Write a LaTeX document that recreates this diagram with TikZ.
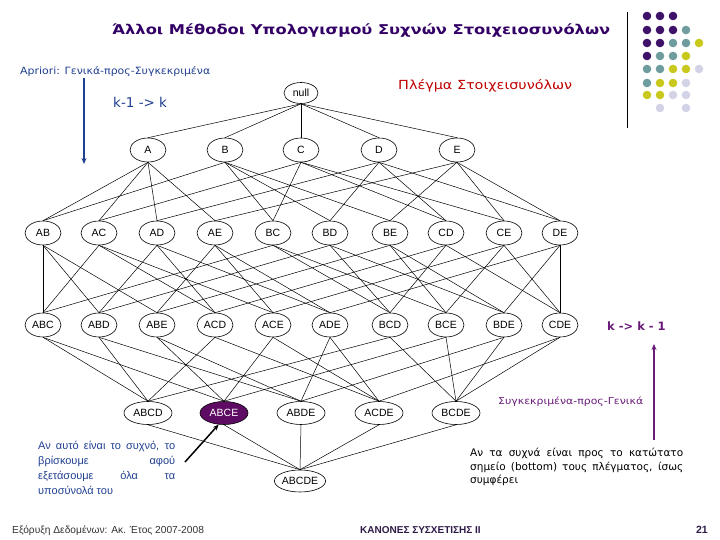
\documentclass[tikz,border=0pt]{standalone}
\usepackage{fontspec}
\setmainfont{Liberation Sans}
\newfontfamily\dvs{DejaVu Sans}
\usetikzlibrary{shapes.geometric,arrows.meta}
\definecolor{ttl}{HTML}{330066}
\definecolor{dpur}{HTML}{3D1268}
\definecolor{teal}{HTML}{6F9C9E}
\definecolor{yel}{HTML}{C9C81C}
\definecolor{lav}{HTML}{D3D3E8}
\definecolor{blu}{HTML}{1F3F8F}
\definecolor{pur}{HTML}{6A1B7A}
\definecolor{redt}{HTML}{C00000}
\definecolor{fillp}{HTML}{5E0B63}
\definecolor{foot}{HTML}{333333}
\definecolor{footp}{HTML}{2E1A47}
\begin{document}
\begin{tikzpicture}[x=1pt,y=-1pt,
  every node/.style={inner sep=0pt},
  set/.style={ellipse, draw, line width=0.6pt, minimum width=36pt, minimum height=24pt, font=\fontsize{10.5}{12}\selectfont},
  setfour/.style={set, minimum width=48pt, minimum height=23pt},
  edge/.style={line width=0.5pt},
  dot/.style={circle, fill=#1, minimum size=8.6pt}]
\useasboundingbox (0,0) rectangle (720,540);

% title
\node[text=ttl, anchor=base west] (title) at (112,35) {\resizebox{498pt}{\height}{\dvs\bfseries\fontsize{13.5}{16}\selectfont Άλλοι Μέθοδοι Υπολογισμού Συχνών Στοιχειοσυνόλων}};

% decoration
\coordinate (vl1) at (627,12);
\coordinate (vl2) at (627,128);
\draw[line width=0.8pt] (vl1) -- (vl2);
\foreach \r/\y/\cols in {1/16/{dpur,dpur,dpur},2/30/{dpur,dpur,dpur,teal},3/43/{dpur,dpur,teal,teal,yel},4/56/{dpur,teal,teal,yel},5/69/{teal,teal,yel,yel,lav},6/83/{teal,yel,yel,lav},7/95/{yel,yel,lav,lav}}{
  \foreach \c [count=\i from 0] in \cols {
    \node[dot=\c] (d\r\i) at (647+13*\i,\y) {};
  }
}
\node[dot=lav] (d81) at (660,108) {};
\node[dot=lav] (d83) at (686,108) {};

% lattice nodes
\node[set, minimum width=34pt, minimum height=21pt] (null) at (301,93) {null};
\foreach \n/\x in {A/148,B/225,C/301,D/379,E/457}
  \node[set] (\n) at (\x,150) {\n};
\foreach \n/\x in {AB/43,AC/99,AD/157,AE/215,BC/273,BD/330,BE/390,CD/446,CE/504,DE/560}
  \node[set] (\n) at (\x,233) {\n};
\foreach \n/\x in {ABC/43,ABD/99,ABE/157,ACD/215,ACE/273,ADE/330,BCD/390,BCE/446,BDE/504,CDE/560}
  \node[set] (\n) at (\x,325) {\n};
\foreach \n/\x in {ABCD/148,ABDE/301,ACDE/379,BCDE/456}
  \node[setfour] (\n) at (\x,413) {\n};
\node[setfour, fill=fillp, text=white] (ABCE) at (224,413) {ABCE};
\node[setfour, minimum width=50pt, minimum height=22pt] (ABCDE) at (300,481) {ABCDE};

% edges
\foreach \c in {A,B,C,D,E}
  \draw[edge] (null.south) -- (\c.north);
\foreach \c/\p in {AB/A,AB/B,AC/A,AC/C,AD/A,AD/D,AE/A,AE/E,BC/B,BC/C,BD/B,BD/D,BE/B,BE/E,CD/C,CD/D,CE/C,CE/E,DE/D,DE/E,
  ABC/AB,ABC/AC,ABC/BC,ABD/AB,ABD/AD,ABD/BD,ABE/AB,ABE/AE,ABE/BE,ACD/AC,ACD/AD,ACD/CD,ACE/AC,ACE/AE,ACE/CE,
  ADE/AD,ADE/AE,ADE/DE,BCD/BC,BCD/BD,BCD/CD,BCE/BC,BCE/BE,BCE/CE,BDE/BD,BDE/BE,BDE/DE,CDE/CD,CDE/CE,CDE/DE,
  ABCD/ABC,ABCD/ABD,ABCD/ACD,ABCD/BCD,ABCE/ABC,ABCE/ABE,ABCE/ACE,ABCE/BCE,ABDE/ABD,ABDE/ABE,ABDE/ADE,ABDE/BDE,
  ACDE/ACD,ACDE/ACE,ACDE/ADE,ACDE/CDE,BCDE/BCD,BCDE/BCE,BCDE/BDE,BCDE/CDE,
  ABCDE/ABCD,ABCDE/ABCE,ABCDE/ABDE,ABCDE/ACDE,ABCDE/BCDE}
  \draw[edge] (\p.south) -- (\c.north);

% left annotations
\node[anchor=base west, text=blu] (apr) at (20,75) {\resizebox{190pt}{\height}{\dvs\fontsize{10}{12}\selectfont Apriori: Γενικά-προς-Συγκεκριμένα}};
\coordinate (ba1) at (84,78);
\coordinate (ba2) at (84,164);
\draw[blu, line width=1.6pt, -{Stealth[length=6pt,width=5pt]}] (ba1) -- (ba2);
\node[anchor=base west, text=blu, font=\dvs\fontsize{13.5}{15}\selectfont] (k1) at (113,108) {k-1 -> k};

\node[anchor=base west, text=redt] (plegma) at (398,90) {\resizebox{174pt}{\height}{\dvs\fontsize{12.5}{14}\selectfont Πλέγμα Στοιχεισυνόλων}};

% right annotations
\node[anchor=base west, text=pur, font=\dvs\bfseries\fontsize{11.5}{13}\selectfont] (k2) at (607,330) {k -> k - 1};
\coordinate (pa1) at (654,440);
\coordinate (pa2) at (654,344);
\draw[pur, line width=1.6pt, -{Stealth[length=6pt,width=5pt]}] (pa1) -- (pa2);
\node[anchor=base west, text=pur] (spg) at (498,404) {\resizebox{145pt}{\height}{\dvs\fontsize{9.5}{11}\selectfont Συγκεκριμένα-προς-Γενικά}};

% bottom-left paragraph
\node[anchor=north west, text=blu, align=left, font=\fontsize{11}{15}\selectfont] (para1) at (38,441) {%
\makebox[137pt][s]{Αν αυτό είναι το συχνό, το}\\
\makebox[137pt][s]{βρίσκουμε \hfill αφού}\\
\makebox[137pt][s]{εξετάσουμε \hfill όλα \hfill τα}\\
υποσύνολά του};
\coordinate (sa) at (185,462);
\draw[line width=1.5pt, -{Stealth[length=6pt,width=5pt]}] (sa) -- (ABCE.-115);

% bottom-right paragraph
\node[anchor=north west, align=left, font=\dvs\fontsize{10.5}{13.5}\selectfont] (para2) at (470,448) {%
\makebox[213pt][s]{Αν τα συχνά είναι προς το κατώτατο}\\
\makebox[213pt][s]{σημείο (bottom) τους πλέγματος, ίσως}\\
συμφέρει};

% footer
\node[anchor=base west, text=foot, font=\fontsize{10.2}{12}\selectfont] (f1) at (12,533) {Εξόρυξη Δεδομένων: Ακ. Έτος 2007-2008};
\node[anchor=base west, text=footp, font=\bfseries\fontsize{10}{12}\selectfont] (f2) at (360,533) {ΚΑΝΟΝΕΣ ΣΥΣΧΕΤΙΣΗΣ ΙΙ};
\node[anchor=base east, text=footp, font=\bfseries\fontsize{10.5}{12}\selectfont] (f3) at (708,533) {21};
\end{tikzpicture}
\end{document}
